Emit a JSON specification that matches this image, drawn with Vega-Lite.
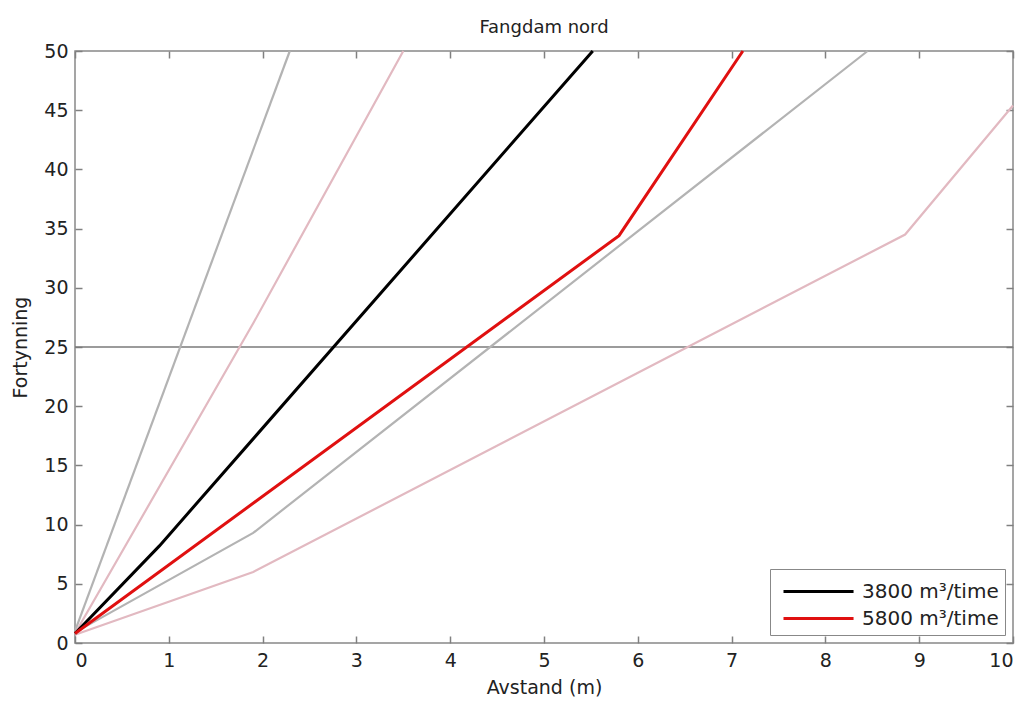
{
  "$schema": "https://vega.github.io/schema/vega-lite/v6.json",
  "autosize": "none",
  "width": 938,
  "height": 592,
  "padding": {"left": 75, "top": 51, "right": 13, "bottom": 61},
  "background": "white",
  "title": {"text": "Fangdam nord", "font": "DejaVu Sans", "fontSize": 18, "fontWeight": "normal", "color": "#222", "offset": 5},
  "config": {
    "view": {"stroke": "#888", "strokeWidth": 1.5},
    "axis": {"labelFont": "DejaVu Sans", "titleFont": "DejaVu Sans", "labelFontSize": 19, "titleFontSize": 19, "titleFontWeight": "normal", "labelColor": "#222", "titleColor": "#222", "domain": false, "ticks": true, "tickColor": "#808080", "tickSize": 7, "tickWidth": 1.5, "offset": -7, "grid": false},
    "legend": {"labelFont": "DejaVu Sans", "labelFontSize": 20, "labelColor": "#222"}
  },
  "datasets": {
    "curves": [
      {"group": "g1", "type": "gray", "serie": "g1", "x": 0, "y": 1.0},
      {"group": "g1", "type": "gray", "serie": "g1", "x": 2.29, "y": 50},
      {"group": "g2", "type": "gray", "serie": "g2", "x": 0, "y": 0.9},
      {"group": "g2", "type": "gray", "serie": "g2", "x": 1.9, "y": 9.3},
      {"group": "g2", "type": "gray", "serie": "g2", "x": 8.45, "y": 50},
      {"group": "p1", "type": "pink", "serie": "p1", "x": 0, "y": 0.8},
      {"group": "p1", "type": "pink", "serie": "p1", "x": 1.9, "y": 27.0},
      {"group": "p1", "type": "pink", "serie": "p1", "x": 3.5, "y": 50},
      {"group": "p2", "type": "pink", "serie": "p2", "x": 0, "y": 0.7},
      {"group": "p2", "type": "pink", "serie": "p2", "x": 1.9, "y": 6.0},
      {"group": "p2", "type": "pink", "serie": "p2", "x": 8.85, "y": 34.5},
      {"group": "p2", "type": "pink", "serie": "p2", "x": 10, "y": 45.4},
      {"group": "m1", "type": "main", "serie": "3800 m³/time", "x": 0, "y": 0.8},
      {"group": "m1", "type": "main", "serie": "3800 m³/time", "x": 0.9, "y": 8.2},
      {"group": "m1", "type": "main", "serie": "3800 m³/time", "x": 5.52, "y": 50},
      {"group": "m2", "type": "main", "serie": "5800 m³/time", "x": 0, "y": 0.8},
      {"group": "m2", "type": "main", "serie": "5800 m³/time", "x": 5.8, "y": 34.4},
      {"group": "m2", "type": "main", "serie": "5800 m³/time", "x": 7.12, "y": 50}
    ],
    "ref": [{"y": 25}]
  },
  "layer": [
    {
      "data": {"name": "ref"},
      "mark": {"type": "rule", "color": "#7a7a7a", "strokeWidth": 1.5},
      "encoding": {
        "y": {"field": "y", "type": "quantitative", "scale": {"domain": [0, 50], "nice": false}, "axis": null}
      }
    },
    {
      "data": {"name": "curves"},
      "transform": [{"filter": "datum.type == 'gray'"}],
      "mark": {"type": "line", "color": "#b3b3b3", "strokeWidth": 2.2},
      "encoding": {
        "x": {"field": "x", "type": "quantitative", "scale": {"domain": [0, 10], "nice": false}, "axis": {"orient": "top", "labels": false, "title": null, "values": [0,1,2,3,4,5,6,7,8,9,10]}},
        "y": {"field": "y", "type": "quantitative", "scale": {"domain": [0, 50], "nice": false}, "axis": {"orient": "right", "labels": false, "title": null, "values": [0,5,10,15,20,25,30,35,40,45,50]}},
        "detail": {"field": "group"},
        "order": {"field": "x", "type": "quantitative"}
      }
    },
    {
      "data": {"name": "curves"},
      "transform": [{"filter": "datum.type == 'pink'"}],
      "mark": {"type": "line", "color": "#e2b9c1", "strokeWidth": 2.2},
      "encoding": {
        "x": {"field": "x", "type": "quantitative", "scale": {"domain": [0, 10], "nice": false}, "axis": null},
        "y": {"field": "y", "type": "quantitative", "scale": {"domain": [0, 50], "nice": false}, "axis": null},
        "detail": {"field": "group"},
        "order": {"field": "x", "type": "quantitative"}
      }
    },
    {
      "data": {"name": "curves"},
      "transform": [{"filter": "datum.type == 'main'"}],
      "mark": {"type": "line", "strokeWidth": 3},
      "encoding": {
        "x": {"field": "x", "type": "quantitative", "scale": {"domain": [0, 10], "nice": false}, "axis": {"orient": "bottom", "title": "Avstand (m)", "values": [0,1,2,3,4,5,6,7,8,9,10], "labelPadding": 8, "titlePadding": 8}},
        "y": {"field": "y", "type": "quantitative", "scale": {"domain": [0, 50], "nice": false}, "axis": {"orient": "left", "title": "Fortynning", "values": [0,5,10,15,20,25,30,35,40,45,50], "labelPadding": 7, "titlePadding": 13}},
        "color": {"field": "serie", "type": "nominal", "scale": {"domain": ["3800 m³/time", "5800 m³/time"], "range": ["#000000", "#e01010"]},
          "legend": {"title": null, "orient": "bottom-right", "offset": 8, "symbolType": "M-0.6,0H4.07", "symbolStrokeWidth": 3, "symbolSize": 900, "strokeColor": "#888", "fillColor": "white", "padding": 6, "rowPadding": -2, "labelOffset": 53}},
        "order": {"field": "x", "type": "quantitative"}
      }
    }
  ],
  "resolve": {"axis": {"x": "independent", "y": "independent"}}
}
